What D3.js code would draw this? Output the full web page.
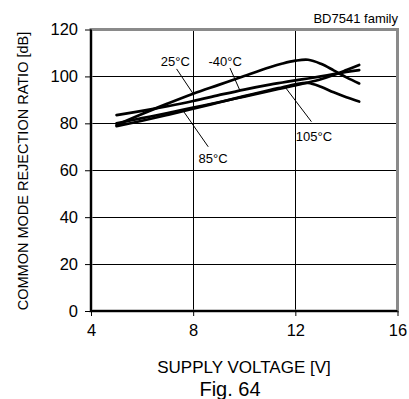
<!DOCTYPE html>
<html>
<head>
<meta charset="utf-8">
<script src="https://cdn.jsdelivr.net/npm/d3@7"></script>
<style>
  html, body { margin: 0; padding: 0; background: #fff; }
  svg { display: block; font-family: "Liberation Sans", Arial, sans-serif; }
</style>
</head>
<body>
<svg id="chart" width="409" height="399"></svg>
<script>
// Supply voltage sample points [V]
const voltage = [5, 6, 7, 8, 9, 10, 11, 11.5, 12, 12.5, 13, 13.5, 14, 14.5];

// CMRR [dB] per ambient temperature
const cmrrM40 = [83.5, 85.3, 87.3, 89.5, 92.0, 94.4, 96.5, 97.4, 98.3, 99.1, 100.0, 101.0, 101.9, 102.7];
const cmrr25  = [79.3, 84.0, 88.4, 92.6, 96.4, 100.2, 103.9, 105.5, 106.7, 107.1, 105.4, 102.6, 99.6, 97.0];
const cmrr85  = [80.0, 82.2, 84.4, 86.7, 89.0, 91.4, 93.8, 95.0, 96.2, 97.4, 98.8, 100.6, 102.7, 104.9];
const cmrr105 = [78.8, 81.1, 83.6, 86.2, 88.9, 91.6, 94.2, 95.4, 96.6, 97.2, 95.6, 93.2, 91.1, 89.3];

const series = [cmrrM40, cmrr25, cmrr85, cmrr105];

// Axis ticks
const xTicks = [4, 8, 12, 16];
const yTicks = [0, 20, 40, 60, 80, 100, 120];

// Temperature labels: text, label anchor [V, dB], leader start [V, dB], leader end [V, dB]
const tempLabels = ["25°C", "-40°C", "85°C", "105°C"];
const labelAt   = [[7.3, 104.5], [9.25, 104.5], [8.78, 63.0], [12.73, 72.5]];
const leaderFrom = [[7.35, 103.2], [9.44, 103.6], [8.59, 70.0], [12.63, 80.7]];
const leaderTo   = [[8.0, 92.6], [9.83, 94.0], [7.61, 85.3], [11.59, 95.6]];

const svg = d3.select("#chart");

const x = d3.scaleLinear().domain([4, 16]).range([91, 397.5]);
const y = d3.scaleLinear().domain([0, 120]).range([311, 29.5]);

// Grid
const grid = svg.append("g").attr("stroke", "#000").attr("stroke-width", 1);
grid.selectAll("line.v").data(xTicks.slice(1, -1)).join("line")
  .attr("x1", d => Math.round(x(d)) + 0.5).attr("x2", d => Math.round(x(d)) + 0.5)
  .attr("y1", y(120)).attr("y2", y(0));
grid.selectAll("line.h").data(yTicks.slice(1, -1)).join("line")
  .attr("x1", x(4)).attr("x2", x(16))
  .attr("y1", d => Math.round(y(d)) + 0.5).attr("y2", d => Math.round(y(d)) + 0.5);

// Grey plot frame
svg.append("rect")
  .attr("x", x(4)).attr("y", y(120))
  .attr("width", x(16) - x(4)).attr("height", y(0) - y(120))
  .attr("fill", "none").attr("stroke", "#8a8a8a").attr("stroke-width", 3);

// Axes
const xAxis = d3.axisBottom(x).tickValues(xTicks).tickSize(5).tickPadding(8).tickFormat(d3.format("d"));
const yAxis = d3.axisLeft(y).tickValues(yTicks).tickSize(6).tickPadding(7).tickFormat(d3.format("d"));

const gx = svg.append("g").attr("transform", `translate(0,${y(0)})`).call(xAxis);
const gy = svg.append("g").attr("transform", `translate(${x(4)},0)`).call(yAxis);
[gx, gy].forEach(g => {
  g.select(".domain").attr("stroke", "#000").attr("stroke-width", 2);
  g.selectAll(".tick line").attr("stroke", "#000").attr("stroke-width", 1);
  g.selectAll(".tick text").attr("fill", "#000")
    .style("font-family", "'Liberation Sans', Arial, sans-serif").style("font-size", "16.5px");
});
gx.select(".domain").attr("d", `M${x(4)},0H${x(16)}`);
gy.select(".domain").attr("d", `M0,${y(0)}V${y(120)}`);

// Curves
const line = d3.line()
  .x((d, i) => x(voltage[i]))
  .y(d => y(d))
  .curve(d3.curveCatmullRom.alpha(0.5));

svg.append("g").selectAll("path").data(series).join("path")
  .attr("d", d => line(d))
  .attr("fill", "none").attr("stroke", "#000").attr("stroke-width", 2.7)
  .attr("stroke-linejoin", "round").attr("stroke-linecap", "round");

// Leaders and temperature labels
const ann = svg.append("g");
ann.selectAll("line").data(tempLabels).join("line")
  .attr("x1", (d, i) => x(leaderFrom[i][0])).attr("y1", (d, i) => y(leaderFrom[i][1]))
  .attr("x2", (d, i) => x(leaderTo[i][0])).attr("y2", (d, i) => y(leaderTo[i][1]))
  .attr("stroke", "#000").attr("stroke-width", 1);
ann.selectAll("text").data(tempLabels).join("text")
  .attr("x", (d, i) => x(labelAt[i][0])).attr("y", (d, i) => y(labelAt[i][1]))
  .attr("text-anchor", "middle").attr("font-size", 13).attr("fill", "#000")
  .text(d => d);

// Titles
svg.append("text").attr("x", 398).attr("y", 23).attr("text-anchor", "end")
  .attr("font-size", 13).text("BD7541 family");

svg.append("text").attr("x", 244).attr("y", 373).attr("text-anchor", "middle")
  .attr("font-size", 17).text("SUPPLY VOLTAGE [V]");

svg.append("text").attr("x", 230).attr("y", 396).attr("text-anchor", "middle")
  .attr("font-size", 20).text("Fig. 64");

svg.append("text").attr("transform", "translate(28,171) rotate(-90)")
  .attr("text-anchor", "middle").attr("font-size", 14.5)
  .text("COMMON MODE REJECTION RATIO [dB]");
</script>
</body>
</html>
